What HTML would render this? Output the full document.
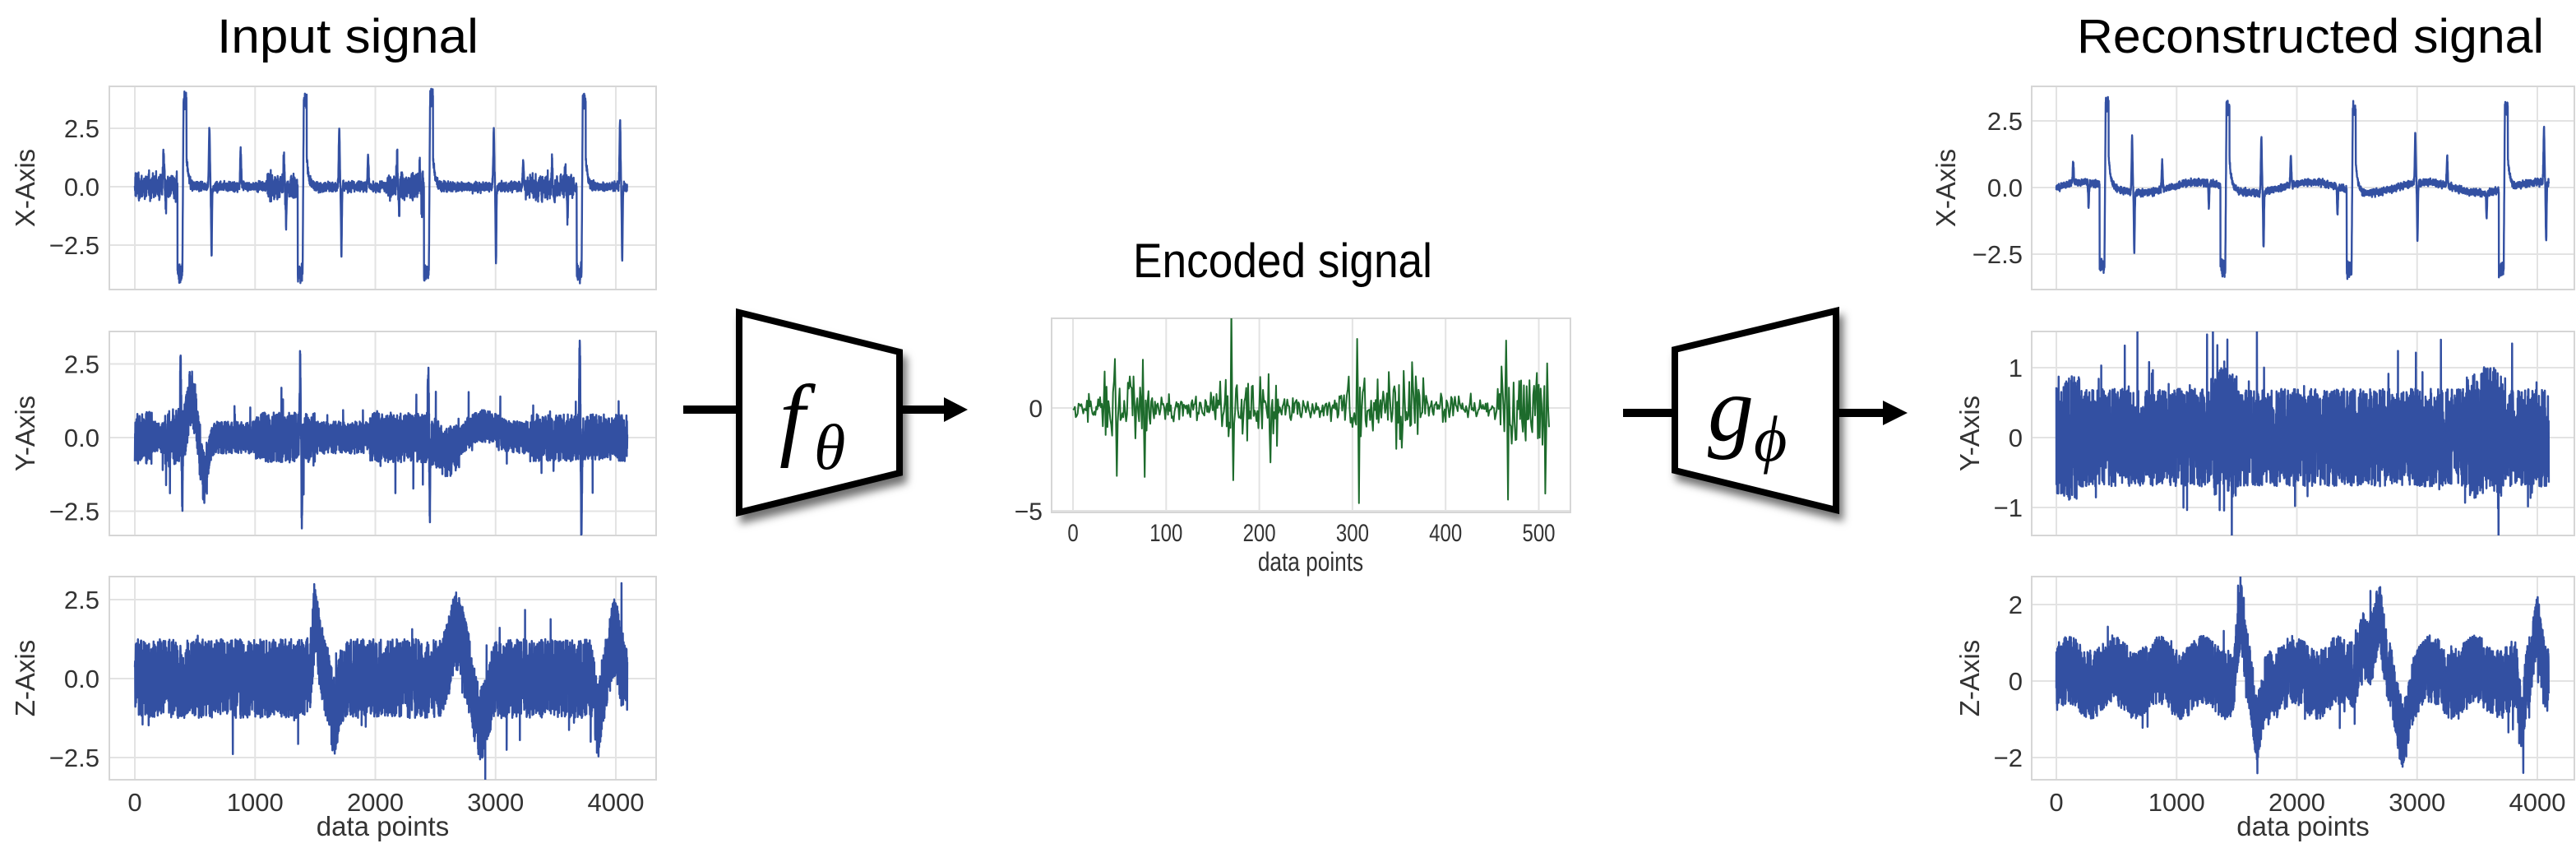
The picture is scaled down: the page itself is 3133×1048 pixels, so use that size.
<!DOCTYPE html>
<html><head><meta charset="utf-8">
<style>
html,body{margin:0;padding:0;background:#fff;}
svg{display:block;}
.tk{font-family:"Liberation Sans",sans-serif;font-size:31px;fill:#333;}
.al{font-family:"Liberation Sans",sans-serif;font-size:33px;fill:#333;}
.ti{font-family:"Liberation Sans",sans-serif;font-size:58px;fill:#000;}
.grid line{stroke:#e3e3e3;stroke-width:2;}
.frame{fill:none;stroke:#d6d6d6;stroke-width:2;}
.math{font-family:"Liberation Serif","DejaVu Serif",serif;font-style:italic;fill:#000;}
</style></head>
<body>
<svg id="s" width="3133" height="1048" viewBox="0 0 3133 1048" xmlns="http://www.w3.org/2000/svg">
<defs>
<filter id="sh" x="-20%" y="-20%" width="150%" height="150%">
<feDropShadow dx="5" dy="9" stdDeviation="5" flood-color="#000" flood-opacity="0.55"/>
</filter>
<clipPath id="cL1"><rect x="133" y="105" width="665" height="247"/></clipPath>
<clipPath id="cL2"><rect x="133" y="403" width="665" height="248"/></clipPath>
<clipPath id="cL3"><rect x="133" y="701" width="665" height="247"/></clipPath>
<clipPath id="cR1"><rect x="2471" y="105" width="660" height="247"/></clipPath>
<clipPath id="cR2"><rect x="2471" y="403" width="660" height="248"/></clipPath>
<clipPath id="cR3"><rect x="2471" y="701" width="660" height="247"/></clipPath>
<clipPath id="cE"><rect x="1279" y="387" width="631" height="236"/></clipPath>
</defs>

<text class="ti" x="423" y="64" text-anchor="middle" textLength="318" lengthAdjust="spacingAndGlyphs">Input signal</text>
<text class="ti" x="1560" y="337" text-anchor="middle" textLength="364" lengthAdjust="spacingAndGlyphs">Encoded signal</text>
<text class="ti" x="2810" y="64" text-anchor="middle" textLength="568" lengthAdjust="spacingAndGlyphs">Reconstructed signal</text>

<g id="axes"></g>
<g id="data"></g>

<line x1="831" y1="498" x2="900" y2="498" stroke="#000" stroke-width="10"/>
<polygon points="899,380 1094,428 1094,575 899,623" fill="#fff" stroke="#000" stroke-width="8" stroke-linejoin="miter" filter="url(#sh)"/>
<line x1="1094" y1="498" x2="1150" y2="498" stroke="#000" stroke-width="10"/>
<polygon points="1148,483 1177,498 1148,513" fill="#000"/>
<text class="math" x="948" y="545" font-size="112">f</text>
<text class="math" x="990" y="570" font-size="78">θ</text>

<line x1="1974" y1="502" x2="2038" y2="502" stroke="#000" stroke-width="10"/>
<polygon points="2037,425 2233,378 2233,620 2037,572" fill="#fff" stroke="#000" stroke-width="8" stroke-linejoin="miter" filter="url(#sh)"/>
<line x1="2233" y1="502" x2="2292" y2="502" stroke="#000" stroke-width="10"/>
<polygon points="2290,487 2320,502 2290,517" fill="#000"/>
<text class="math" x="2077" y="535" font-size="112">g</text>
<text class="math" x="2133" y="560" font-size="78">ϕ</text>
</svg>

<script>
(function(){
var NS="http://www.w3.org/2000/svg";
var axes=document.getElementById('axes'), data=document.getElementById('data');
function el(tag,attrs,parent,txt){var e=document.createElementNS(NS,tag);for(var k in attrs)e.setAttribute(k,attrs[k]);if(txt!==undefined)e.textContent=txt;(parent||axes).appendChild(e);return e;}
function panel(p){
  var g=el('g',{'class':'grid'});
  p.xticks.forEach(function(t){var x=p.x0+t*p.xs;el('line',{x1:x,y1:p.top,x2:x,y2:p.bottom},g);});
  p.yticks.forEach(function(t){var y=p.y0-t[0]*p.ys;el('line',{x1:p.left,y1:y,x2:p.right,y2:y},g);
     el('text',{'class':'tk',x:p.tickRight,y:y+11,'text-anchor':'end'},axes,t[1]);});
  el('rect',{'class':'frame',x:p.left,y:p.top,width:p.right-p.left,height:p.bottom-p.top});
  if(p.label){var cy=(p.top+p.bottom)/2;el('text',{'class':'al',x:p.labelX,y:cy,'text-anchor':'middle',transform:'rotate(-90 '+p.labelX+' '+cy+')',dy:'12'},axes,p.label);}
  if(p.showX){p.xticks.forEach(function(t){el('text',{'class':'tk',x:p.x0+t*p.xs,y:p.xlabY,'text-anchor':'middle'},axes,String(t));});
    el('text',{'class':'tk',x:(p.left+p.right)/2,y:p.dpY,'text-anchor':'middle',style:'font-size:33px'},axes,'data points');}
}
function plot(arr,x0,xs,y0,ys,color,w,clip){
  var d='M';for(var i=0;i<arr.length;i++){d+=(x0+i*xs).toFixed(1)+','+(y0-arr[i]*ys).toFixed(1)+(i<arr.length-1?'L':'');}
  el('path',{d:d,fill:'none',stroke:color,'stroke-width':w,'stroke-linejoin':'round','clip-path':'url(#'+clip+')'},data);
}
var seed=12345;function rnd(){seed|=0;seed=seed+0x6D2B79F5|0;var t=Math.imul(seed^seed>>>15,1|seed);t=t+Math.imul(t^t>>>7,61|t)^t;return((t^t>>>14)>>>0)/4294967296;}
function gs(){return (rnd()+rnd()+rnd()-1.5)*1.4;}
function G(t,c,w){return Math.exp(-Math.pow((t-c)/w,2));}
var N=4096;
var xt=[0,1000,2000,3000,4000];
var BLUE='#3350a2';

function makeX(major,minor,noise,amp){
  var a=[];for(var t=0;t<N;t++){var v=noise*gs();
    major.forEach(function(c){ if(t>=c-45&&t<c-5)v+=-amp+0.2*gs(); if(t>=c+5&&t<c+30)v+=amp+0.2*gs(); if(t>=c+30&&t<c+120)v+=1.2*Math.exp(-(t-c-30)/18); if(t>=c-5&&t<c+5)v+=-amp+(t-c+5)/10*2*amp;});
    minor.forEach(function(m){v+=m[1]*G(t,m[0],6)+m[2]*G(t,m[0]+18,5);});
    a.push(v);}
  return a;}
var spikesIn=[[240,1.4,-0.8],[880,1.6,0],[1240,1.1,-1.5],[1940,1.3,0],[2180,1.1,-0.8],[2370,0.8,-1.2],[3230,1.2,0],[3470,0.8,-0.6],[3580,0.8,-1.1]];
var inX=makeX([400,1400,2450,3720],[[620,2.5,-2.9],[1700,2.4,-2.9],[2985,2.4,-3.2],[4035,2.9,-3.2]].concat(spikesIn),0.15,3.7);
for(var t=0;t<N;t++){ if(t<350||(t>1100&&t<1350)||(t>2100&&t<2400)||(t>3250&&t<3650)) inX[t]+=0.35*gs(); }
var rX=makeX([405,1410,2460,3725],[[630,2.2,-2.4],[1705,2.3,-2.3],[2985,2.0,-2.4],[4055,2.2,-2.4],[140,0.9,0],[250,0,-1.0],[880,1.2,0],[1250,0,-1.0],[1950,1.2,0],[2320,0,-1.1],[3250,1.2,0],[3560,0,-1.0]],0.1,3.3);
for(var t=0;t<N;t++){rX[t]*=0.92; rX[t]+=0.2*Math.sin(t/150);}

function band(trend,ampf,spk){var a=[];for(var t=0;t<N;t++){var A=ampf(t);var v=trend(t)+A*(rnd()*2-1);if(rnd()<0.02)v+=A*spk*(rnd()<0.5?1:-1)*rnd();a.push(v);}return a;}
var inY=band(function(t){return 1.4*G(t,470,45)-1.3*G(t,580,40)+0.4*G(t,2900,150)-0.5*G(t,2600,100);},
  function(t){var A=0.55;if(t>250&&t<600)A=1.0;if(t>1000&&t<1500)A=0.85;if(t>1950&&t<2700)A=0.85;if(t>3300&&t<4100)A=0.8;if(t<150)A=0.9;return A;},1.6);
[[380,2.6,-2.0],[1375,2.6,-2.3],[2440,2.5,-2.2],[3700,3.3,-3.0]].forEach(function(s){for(var t=s[0]-15;t<s[0]+25;t++){inY[t]+=s[1]*G(t,s[0],5)+s[2]*G(t,s[0]+14,5);}});
var inZ=band(function(t){return 0.7*G(t,1520,50)+1.4*G(t,1500,25)-1.2*G(t,1660,45)+1.5*G(t,2680,80)-1.5*G(t,2880,70)-1.4*G(t,3850,35)+1.3*G(t,3990,50);},
  function(t){return 1.25;},1.4);
var rY=band(function(t){return 0.2*G(t,1400,40)+0.2*G(t,3600,60);},function(t){var A=0.7;if(t<200||(t>1300&&t<1500)||(t>3400&&t<3700))A=0.9;return A;},1.5);
var rZ=band(function(t){return 0.1+1.5*G(t,1530,40)-1.4*G(t,1670,45)+1.0*G(t,2560,60)+1.4*G(t,2680,50)-1.3*G(t,2880,70)-1.2*G(t,3870,35)+1.4*G(t,4000,45)+0.2*Math.sin(t/60);},function(t){return 0.9;},1.2);

var enc=[];for(var i=0;i<512;i++){var A=0.45;
  if((i>30&&i<80)||(i>160&&i<220)||(i>290&&i<380)||(i>455&&i<512))A=1.2;
  enc.push(A*gs());}
[[45,2.5,-2.5],[75,2.4,-3.0],[170,4.0,-2.6],[158,1.5,-1.0],[210,2.0,-3.3],[305,3.4,-3.9],[320,0,-2.0],[355,1.8,-1.5],[465,3.4,-4.8],[505,2.0,-4.5],[490,1.8,-1.8]].forEach(function(s){enc[s[0]]+=s[1];if(s[0]+2<512)enc[s[0]+2]+=s[2];});

var L={left:133,right:798,x0:164,xs:0.14625,tickRight:121,labelX:30};
var R={left:2471,right:3131,x0:2501,xs:0.14625,tickRight:2460,labelX:2366};
function mk(base,o){var p={};for(var k in base)p[k]=base[k];for(var k in o)p[k]=o[k];p.xticks=xt;return p;}
panel(mk(L,{top:105,bottom:352,y0:227,ys:28.4,yticks:[[2.5,'2.5'],[0,'0.0'],[-2.5,'−2.5']],label:'X-Axis'}));
panel(mk(L,{top:403,bottom:651,y0:532,ys:35.8,yticks:[[2.5,'2.5'],[0,'0.0'],[-2.5,'−2.5']],label:'Y-Axis'}));
panel(mk(L,{top:701,bottom:948,y0:825,ys:38.4,yticks:[[2.5,'2.5'],[0,'0.0'],[-2.5,'−2.5']],label:'Z-Axis',showX:true,xlabY:986,dpY:1016}));
panel(mk(R,{top:105,bottom:352,y0:228,ys:32.4,yticks:[[2.5,'2.5'],[0,'0.0'],[-2.5,'−2.5']],label:'X-Axis'}));
panel(mk(R,{top:403,bottom:651,y0:532,ys:85,yticks:[[1,'1'],[0,'0'],[-1,'−1']],label:'Y-Axis',labelX:2395}));
panel(mk(R,{top:701,bottom:948,y0:828,ys:46.5,yticks:[[2,'2'],[0,'0'],[-2,'−2']],label:'Z-Axis',labelX:2395,showX:true,xlabY:986,dpY:1016}));
(function(){var g=el('g',{'class':'grid'});
 [0,100,200,300,400,500].forEach(function(t){var x=1305+t*1.133;el('line',{x1:x,y1:387,x2:x,y2:623},g);
   el('text',{'class':'tk',x:x,y:658,'text-anchor':'middle',style:'font-size:30px',transform:'translate('+x+' 0) scale(0.8 1) translate('+(-x)+' 0)'},axes,String(t));});
 [[0,'0'],[-5,'−5']].forEach(function(t){var y=496-t[0]*25;el('line',{x1:1279,y1:y,x2:1910,y2:y},g);
   el('text',{'class':'tk',x:1268,y:y+11,'text-anchor':'end',style:'font-size:30px'},axes,t[1]);});
 el('rect',{'class':'frame',x:1279,y:387,width:631,height:236});
 el('text',{'class':'tk',x:1594,y:694,'text-anchor':'middle',style:'font-size:32px',transform:'translate(1594 0) scale(0.82 1) translate(-1594 0)'},axes,'data points');
})();

plot(inX,164,0.14625,227,28.4,BLUE,2.4,'cL1');
plot(inY,164,0.14625,532,35.8,BLUE,2.5,'cL2');
plot(inZ,164,0.14625,825,38.4,BLUE,2.5,'cL3');
plot(rX,2501,0.14625,228,32.4,BLUE,2.4,'cR1');
plot(rY,2501,0.14625,532,85,BLUE,2.5,'cR2');
plot(rZ,2501,0.14625,828,46.5,BLUE,2.5,'cR3');
plot(enc,1305,1.133,496,25,'#1d6b2c',2,'cE');
})();
</script>
</body></html>
